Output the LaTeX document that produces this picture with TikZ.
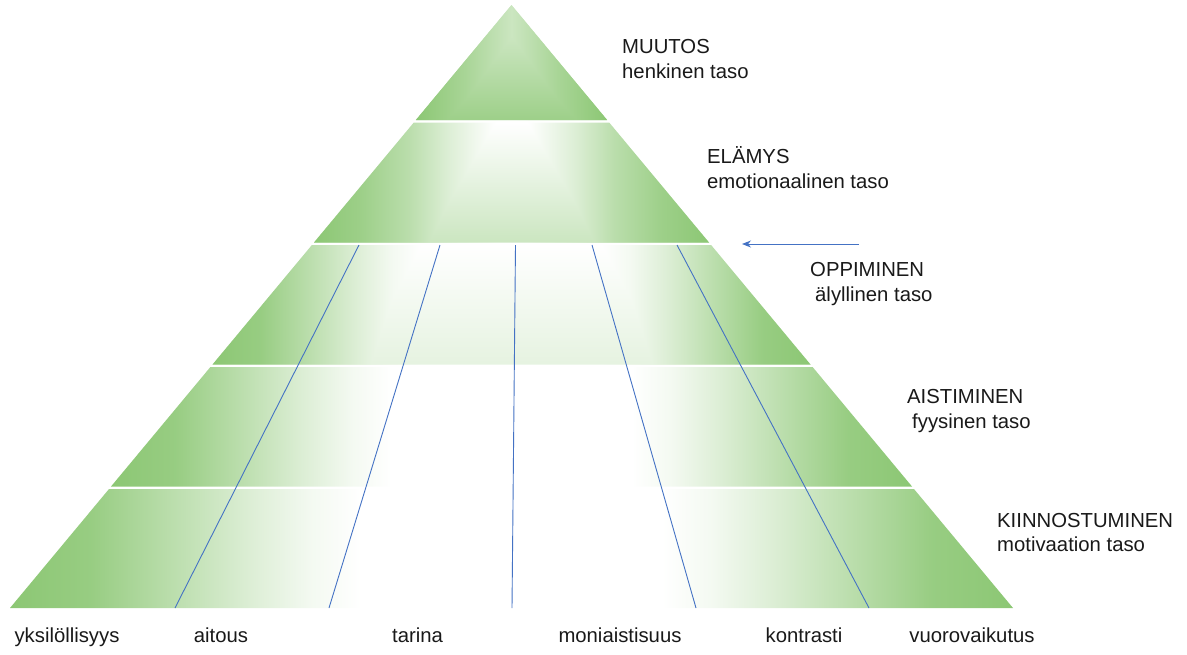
\documentclass[tikz,border=0pt]{standalone}
\usepackage{fontspec}
\setmainfont{Liberation Sans}
\usetikzlibrary{arrows.meta}
\definecolor{pg}{RGB}{140,199,116}
\colorlet{pg90}{pg!90!white}
\colorlet{pg85}{pg!85!white}
\colorlet{pg75}{pg!75!white}
\colorlet{pg60}{pg!60!white}
\colorlet{pg45}{pg!45!white}
\colorlet{pg30}{pg!30!white}
\colorlet{pg20}{pg!22!white}
\colorlet{pg10}{pg!10!white}
\definecolor{lineblue}{RGB}{68,114,196}
\pgfdeclarehorizontalshading{band}{100bp}{color(0bp)=(pg); color(25bp)=(pg); color(29bp)=(pg90); color(33bp)=(pg60); color(37bp)=(pg30); color(40bp)=(pg10); color(42.5bp)=(white); color(57.5bp)=(white); color(60bp)=(pg10); color(63bp)=(pg30); color(67bp)=(pg60); color(71bp)=(pg90); color(75bp)=(pg); color(100bp)=(pg)}
\pgfdeclarehorizontalshading{topband}{100bp}{color(0bp)=(pg); color(25bp)=(pg); color(31bp)=(pg85); color(37bp)=(pg60); color(42bp)=(pg30); color(46bp)=(pg10); color(48bp)=(white); color(52bp)=(white); color(54bp)=(pg10); color(58bp)=(pg30); color(63bp)=(pg60); color(69bp)=(pg85); color(75bp)=(pg); color(100bp)=(pg)}
\pgfdeclarehorizontalshading{triband}{100bp}{color(0bp)=(pg); color(25bp)=(pg); color(38bp)=(pg75); color(50bp)=(pg45); color(62bp)=(pg75); color(75bp)=(pg); color(100bp)=(pg)}
\tikzset{
  lab/.style={anchor=base west, inner sep=0pt, font=\fontsize{20.3}{24}\selectfont, text=black!90},
  blab/.style={anchor=base, inner sep=0pt, font=\fontsize{20.3}{24}\selectfont, text=black!90},
  colline/.style={draw=lineblue, line width=0.9pt},
}
\begin{document}
\begin{tikzpicture}[x=1pt,y=-1pt]
\useasboundingbox (0,0) rectangle (1187,654);
% layer 1 (triangle)
\shade[shading=triband] (511.5,5) -- (607.1,120) -- (415.9,120) -- cycle;
\begin{scope}[blend mode=darken]
\shade[top color=pg30, bottom color=pg85] (511.5,5) -- (607.1,120) -- (415.9,120) -- cycle;
\end{scope}
% layer 2
\shade[shading=topband] (413.8,122.5) -- (609.2,122.5) -- (709.0,242.5) -- (314.0,242.5) -- cycle;
\begin{scope}[blend mode=darken]
\shade[top color=white, middle color=pg20, bottom color=pg45] (413.8,122.5) -- (609.2,122.5) -- (709.0,242.5) -- (314.0,242.5) -- cycle;
\end{scope}
% layer 3
\shade[shading=band] (311.9,245) -- (711.1,245) -- (810.5,364.5) -- (212.5,364.5) -- cycle;
\begin{scope}[blend mode=darken]
\shade[top color=white, middle color=pg10, bottom color=pg20] (311.9,245) -- (711.1,245) -- (810.5,364.5) -- (212.5,364.5) -- cycle;
\end{scope}
% layer 4
\shade[shading=band] (210.4,367) -- (812.6,367) -- (912.0,486.5) -- (111.0,486.5) -- cycle;
% layer 5
\shade[shading=band] (109.0,489) -- (914.0,489) -- (1013,608) -- (10,608) -- cycle;
% column lines
\coordinate (b1) at (175,608); \coordinate (t1) at (359,245);
\coordinate (b2) at (329,608); \coordinate (t2) at (440,245);
\coordinate (b3) at (512,608); \coordinate (t3) at (515.5,245);
\coordinate (b4) at (696,608); \coordinate (t4) at (592,245);
\coordinate (b5) at (869,608); \coordinate (t5) at (677,245);
\foreach \i in {1,...,5} {\draw[colline] (b\i) -- (t\i);}
% arrow
\coordinate (arrS) at (859,244);
\coordinate (arrE) at (742,244);
\draw[colline, line width=1pt, -{Stealth[length=9pt,width=7pt]}] (arrS) -- (arrE);
% level labels
\node[lab] (l1a) at (622,53) {MUUTOS};
\node[lab] (l1b) at (622,78) {henkinen taso};
\node[lab] (l2a) at (707,163) {ELÄMYS};
\node[lab] (l2b) at (707,188) {emotionaalinen taso};
\node[lab] (l3a) at (810,276) {OPPIMINEN};
\node[lab] (l3b) at (815,301) {älyllinen taso};
\node[lab] (l4a) at (907,403) {AISTIMINEN};
\node[lab] (l4b) at (912,428) {fyysinen taso};
\node[lab] (l5a) at (997,527) {KIINNOSTUMINEN};
\node[lab] (l5b) at (997,551) {motivaation taso};
% column labels
\node[blab] (c1) at (67,642) {yksilöllisyys};
\node[blab] (c2) at (221,642) {aitous};
\node[blab] (c3) at (417.5,642) {tarina};
\node[blab] (c4) at (620,642) {moniaistisuus};
\node[blab] (c5) at (804,642) {kontrasti};
\node[blab] (c6) at (972,642) {vuorovaikutus};
\end{tikzpicture}
\end{document}
